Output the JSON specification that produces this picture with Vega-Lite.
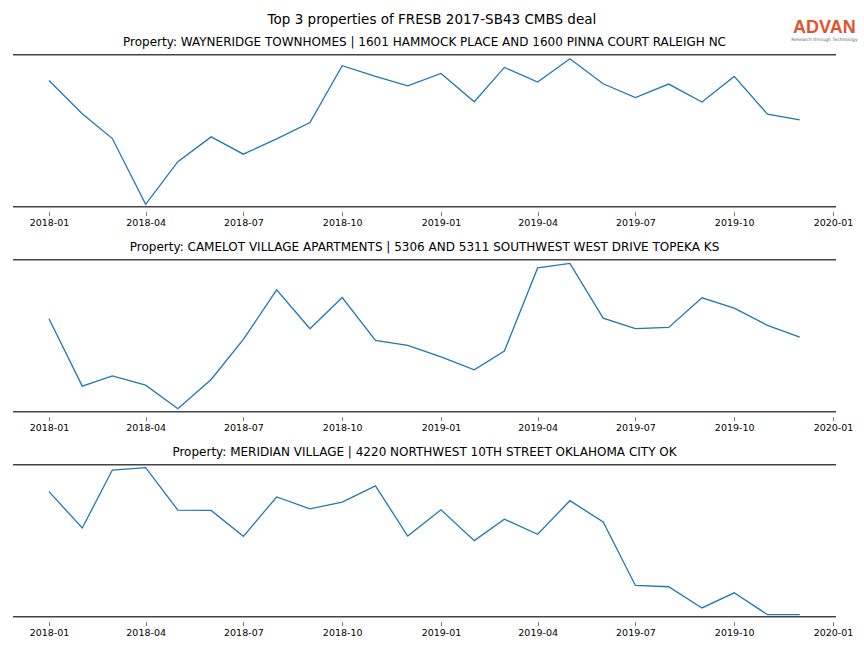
{
  "$schema": "https://vega.github.io/schema/vega-lite/v6.json",
  "padding": {"left": 12, "top": 12, "right": 5, "bottom": 5},
  "background": "white",
  "title": {"text": "Top 3 properties of FRESB 2017-SB43 CMBS deal", "fontSize": 13.5, "font": "DejaVu Sans", "fontWeight": "normal", "color": "black", "anchor": "middle", "offset": -7.7, "dx": -3},
  "config": {
    "view": {"stroke": null},
    "font": "DejaVu Sans",
    "title": {"fontSize": 12, "fontWeight": "normal", "color": "black", "font": "DejaVu Sans", "offset": 4.5},
    "axis": {"grid": false}
  },
  "spacing": -5.3,
  "datasets": {
    "d": [
      {"p": 1, "date": "2018-01-01", "v": 126.0}, {"p": 1, "date": "2018-02-01", "v": 92.7}, {"p": 1, "date": "2018-03-01", "v": 68.0}, {"p": 1, "date": "2018-04-01", "v": 2.4},
      {"p": 1, "date": "2018-05-01", "v": 45.0}, {"p": 1, "date": "2018-06-01", "v": 69.7}, {"p": 1, "date": "2018-07-01", "v": 52.4}, {"p": 1, "date": "2018-08-01", "v": 67.7},
      {"p": 1, "date": "2018-09-01", "v": 84.0}, {"p": 1, "date": "2018-10-01", "v": 140.7}, {"p": 1, "date": "2018-11-01", "v": 130.0}, {"p": 1, "date": "2018-12-01", "v": 120.7},
      {"p": 1, "date": "2019-01-01", "v": 133.0}, {"p": 1, "date": "2019-02-01", "v": 104.7}, {"p": 1, "date": "2019-03-01", "v": 139.0}, {"p": 1, "date": "2019-04-01", "v": 124.4},
      {"p": 1, "date": "2019-05-01", "v": 147.7}, {"p": 1, "date": "2019-06-01", "v": 122.7}, {"p": 1, "date": "2019-07-01", "v": 109.0}, {"p": 1, "date": "2019-08-01", "v": 122.4},
      {"p": 1, "date": "2019-09-01", "v": 104.4}, {"p": 1, "date": "2019-10-01", "v": 130.0}, {"p": 1, "date": "2019-11-01", "v": 92.4}, {"p": 1, "date": "2019-12-01", "v": 86.7},
      {"p": 2, "date": "2018-01-01", "v": 93.4}, {"p": 2, "date": "2018-02-01", "v": 25.7}, {"p": 2, "date": "2018-03-01", "v": 36.0}, {"p": 2, "date": "2018-04-01", "v": 26.7},
      {"p": 2, "date": "2018-05-01", "v": 3.0}, {"p": 2, "date": "2018-06-01", "v": 32.4}, {"p": 2, "date": "2018-07-01", "v": 72.7}, {"p": 2, "date": "2018-08-01", "v": 122.4},
      {"p": 2, "date": "2018-09-01", "v": 83.4}, {"p": 2, "date": "2018-10-01", "v": 114.7}, {"p": 2, "date": "2018-11-01", "v": 71.7}, {"p": 2, "date": "2018-12-01", "v": 66.7},
      {"p": 2, "date": "2019-01-01", "v": 55.0}, {"p": 2, "date": "2019-02-01", "v": 42.0}, {"p": 2, "date": "2019-03-01", "v": 61.0}, {"p": 2, "date": "2019-04-01", "v": 144.4},
      {"p": 2, "date": "2019-05-01", "v": 149.0}, {"p": 2, "date": "2019-06-01", "v": 94.0}, {"p": 2, "date": "2019-07-01", "v": 83.4}, {"p": 2, "date": "2019-08-01", "v": 84.7},
      {"p": 2, "date": "2019-09-01", "v": 114.4}, {"p": 2, "date": "2019-10-01", "v": 104.0}, {"p": 2, "date": "2019-11-01", "v": 86.7}, {"p": 2, "date": "2019-12-01", "v": 75.0},
      {"p": 3, "date": "2018-01-01", "v": 124.0}, {"p": 3, "date": "2018-02-01", "v": 88.0}, {"p": 3, "date": "2018-03-01", "v": 145.4}, {"p": 3, "date": "2018-04-01", "v": 147.7},
      {"p": 3, "date": "2018-05-01", "v": 105.7}, {"p": 3, "date": "2018-06-01", "v": 105.4}, {"p": 3, "date": "2018-07-01", "v": 79.7}, {"p": 3, "date": "2018-08-01", "v": 118.7},
      {"p": 3, "date": "2018-09-01", "v": 107.0}, {"p": 3, "date": "2018-10-01", "v": 113.7}, {"p": 3, "date": "2018-11-01", "v": 129.7}, {"p": 3, "date": "2018-12-01", "v": 80.0},
      {"p": 3, "date": "2019-01-01", "v": 106.0}, {"p": 3, "date": "2019-02-01", "v": 75.4}, {"p": 3, "date": "2019-03-01", "v": 96.7}, {"p": 3, "date": "2019-04-01", "v": 81.7},
      {"p": 3, "date": "2019-05-01", "v": 115.0}, {"p": 3, "date": "2019-06-01", "v": 94.0}, {"p": 3, "date": "2019-07-01", "v": 31.0}, {"p": 3, "date": "2019-08-01", "v": 29.7},
      {"p": 3, "date": "2019-09-01", "v": 8.7}, {"p": 3, "date": "2019-10-01", "v": 23.7}, {"p": 3, "date": "2019-11-01", "v": 2.0}, {"p": 3, "date": "2019-12-01", "v": 2.0}
    ],
    "one": [{"k": 1}]
  },
  "vconcat": [
    {
      "width": 823, "height": 1,
      "data": {"name": "one"},
      "layer": [
        {"mark": {"type": "text", "text": "ADVAN", "font": "Liberation Sans", "fontWeight": "bold", "fontSize": 18, "color": "#e2552c", "align": "center", "baseline": "bottom"},
          "encoding": {"x": {"datum": {"year": 2019, "month": 12, "date": 24, "utc": true}, "type": "temporal", "axis": null,
            "scale": {"type": "utc", "domain": [{"year": 2017, "month": 11, "date": 28, "hours": 12, "utc": true}, {"year": 2020, "month": 1, "date": 3, "hours": 19, "utc": true}]}}}},
        {"mark": {"type": "text", "text": "Research through Technology", "fontSize": 4.5, "color": "#666", "align": "center", "baseline": "top"},
          "encoding": {"x": {"datum": {"year": 2019, "month": 12, "date": 24, "utc": true}, "type": "temporal", "axis": null}}}
      ]
    },
    {
      "spacing": 13,
      "vconcat": [
        {
          "title": "Property: WAYNERIDGE TOWNHOMES | 1601 HAMMOCK PLACE AND 1600 PINNA COURT RALEIGH NC",
          "width": 823, "height": 152,
          "layer": [
            {
              "data": {"name": "d"},
              "transform": [{"filter": "datum.p == 1"}],
              "mark": {"type": "line", "color": "#1f77b4", "strokeWidth": 1.3},
              "encoding": {
                "x": {"field": "date", "type": "temporal",
                  "scale": {"type": "utc", "domain": [{"year": 2017, "month": 11, "date": 28, "hours": 12, "utc": true}, {"year": 2020, "month": 1, "date": 3, "hours": 19, "utc": true}]},
                  "axis": {"title": null, "domain": false, "offset": 5, "tickSize": 4, "tickColor": "#777", "tickWidth": 1, "labelFontSize": 9.5, "labelColor": "black", "labelPadding": 2, "format": "%Y-%m", "labelFlush": false,
                    "values": [{"year": 2018, "month": 1, "date": 1, "utc": true}, {"year": 2018, "month": 4, "date": 1, "utc": true}, {"year": 2018, "month": 7, "date": 1, "utc": true}, {"year": 2018, "month": 10, "date": 1, "utc": true}, {"year": 2019, "month": 1, "date": 1, "utc": true}, {"year": 2019, "month": 4, "date": 1, "utc": true}, {"year": 2019, "month": 7, "date": 1, "utc": true}, {"year": 2019, "month": 10, "date": 1, "utc": true}, {"year": 2020, "month": 1, "date": 1, "utc": true}]}},
                "y": {"field": "v", "type": "quantitative", "scale": {"domain": [0, 151.7], "nice": false, "zero": false}, "axis": null}
              }
            },
            {"data": {"name": "one"}, "mark": {"type": "rule", "color": "#444", "strokeWidth": 1.5}, "encoding": {"y": {"datum": 0}}},
            {"data": {"name": "one"}, "mark": {"type": "rule", "color": "#444", "strokeWidth": 1.5}, "encoding": {"y": {"datum": 151.7}}}
          ]
        },
        {
          "title": "Property: CAMELOT VILLAGE APARTMENTS | 5306 AND 5311 SOUTHWEST WEST DRIVE TOPEKA KS",
          "width": 823, "height": 152,
          "layer": [
            {
              "data": {"name": "d"},
              "transform": [{"filter": "datum.p == 2"}],
              "mark": {"type": "line", "color": "#1f77b4", "strokeWidth": 1.3},
              "encoding": {
                "x": {"field": "date", "type": "temporal",
                  "scale": {"type": "utc", "domain": [{"year": 2017, "month": 11, "date": 28, "hours": 12, "utc": true}, {"year": 2020, "month": 1, "date": 3, "hours": 19, "utc": true}]},
                  "axis": {"title": null, "domain": false, "offset": 5, "tickSize": 4, "tickColor": "#777", "tickWidth": 1, "labelFontSize": 9.5, "labelColor": "black", "labelPadding": 2, "format": "%Y-%m", "labelFlush": false,
                    "values": [{"year": 2018, "month": 1, "date": 1, "utc": true}, {"year": 2018, "month": 4, "date": 1, "utc": true}, {"year": 2018, "month": 7, "date": 1, "utc": true}, {"year": 2018, "month": 10, "date": 1, "utc": true}, {"year": 2019, "month": 1, "date": 1, "utc": true}, {"year": 2019, "month": 4, "date": 1, "utc": true}, {"year": 2019, "month": 7, "date": 1, "utc": true}, {"year": 2019, "month": 10, "date": 1, "utc": true}, {"year": 2020, "month": 1, "date": 1, "utc": true}]}},
                "y": {"field": "v", "type": "quantitative", "scale": {"domain": [0, 152.7], "nice": false, "zero": false}, "axis": null}
              }
            },
            {"data": {"name": "one"}, "mark": {"type": "rule", "color": "#444", "strokeWidth": 1.5}, "encoding": {"y": {"datum": 0}}},
            {"data": {"name": "one"}, "mark": {"type": "rule", "color": "#444", "strokeWidth": 1.5}, "encoding": {"y": {"datum": 152.7}}}
          ]
        },
        {
          "title": "Property: MERIDIAN VILLAGE | 4220 NORTHWEST 10TH STREET OKLAHOMA CITY OK",
          "width": 823, "height": 152,
          "layer": [
            {
              "data": {"name": "d"},
              "transform": [{"filter": "datum.p == 3"}],
              "mark": {"type": "line", "color": "#1f77b4", "strokeWidth": 1.3},
              "encoding": {
                "x": {"field": "date", "type": "temporal",
                  "scale": {"type": "utc", "domain": [{"year": 2017, "month": 11, "date": 28, "hours": 12, "utc": true}, {"year": 2020, "month": 1, "date": 3, "hours": 19, "utc": true}]},
                  "axis": {"title": null, "domain": false, "offset": 5, "tickSize": 4, "tickColor": "#777", "tickWidth": 1, "labelFontSize": 9.5, "labelColor": "black", "labelPadding": 2, "format": "%Y-%m", "labelFlush": false,
                    "values": [{"year": 2018, "month": 1, "date": 1, "utc": true}, {"year": 2018, "month": 4, "date": 1, "utc": true}, {"year": 2018, "month": 7, "date": 1, "utc": true}, {"year": 2018, "month": 10, "date": 1, "utc": true}, {"year": 2019, "month": 1, "date": 1, "utc": true}, {"year": 2019, "month": 4, "date": 1, "utc": true}, {"year": 2019, "month": 7, "date": 1, "utc": true}, {"year": 2019, "month": 10, "date": 1, "utc": true}, {"year": 2020, "month": 1, "date": 1, "utc": true}]}},
                "y": {"field": "v", "type": "quantitative", "scale": {"domain": [0, 150.7], "nice": false, "zero": false}, "axis": null}
              }
            },
            {"data": {"name": "one"}, "mark": {"type": "rule", "color": "#444", "strokeWidth": 1.5}, "encoding": {"y": {"datum": 0}}},
            {"data": {"name": "one"}, "mark": {"type": "rule", "color": "#444", "strokeWidth": 1.5}, "encoding": {"y": {"datum": 150.7}}}
          ]
        }
      ]
    }
  ]
}
